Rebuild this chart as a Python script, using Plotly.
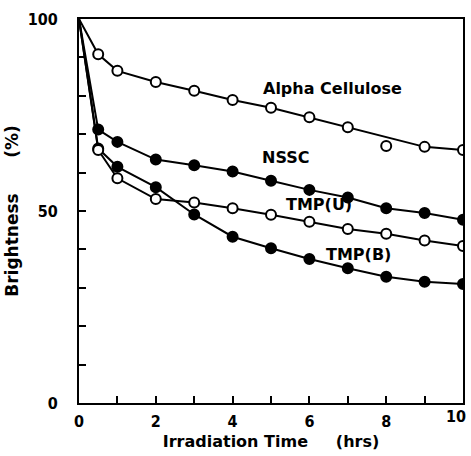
import plotly.graph_objects as go

# Irradiation time (hrs)
time_hrs = [0, 0.5, 1, 2, 3, 4, 5, 6, 7, 8, 9, 10]

# Brightness (%) for each pulp
alpha_cellulose = [100, 90.8, 86.5, 83.6, 81.3, 78.9, 76.9, 74.4, 71.8, 66.9, 66.7, 65.9]
nssc = [100, 71.2, 68.0, 63.4, 61.9, 60.3, 57.9, 55.5, 53.5, 50.7, 49.5, 47.7]
tmp_u = [100, 65.9, 58.5, 53.1, 52.2, 50.7, 49.0, 47.2, 45.3, 44.1, 42.3, 40.9]
tmp_b = [100, 66.3, 61.5, 56.2, 49.1, 43.3, 40.3, 37.5, 35.1, 32.9, 31.6, 31.0]

# Points that the hand-drawn curve passes through (Alpha Cellulose point at 8 h lies off the curve)
alpha_on_curve = [True, True, True, True, True, True, True, True, True, False, True, True]

series = [
    ("Alpha Cellulose", alpha_cellulose, "open", 6.6, 81.8),
    ("NSSC", nssc, "filled", 5.37, 63.9),
    ("TMP(U)", tmp_u, "open", 6.24, 51.6),
    ("TMP(B)", tmp_b, "filled", 7.28, 38.8),
]

y_tick_vals = list(range(0, 101, 10))
y_tick_text = ["0", "", "", "", "", "50", "", "", "", "", "100"]
x_tick_vals = list(range(0, 11))
x_tick_text = ["0", "", "2", "", "4", "", "6", "", "8", "", "10"]

FONT = "DejaVu Sans, Liberation Sans, Arial, sans-serif"
TICKFONT = "DejaVu Sans Condensed, DejaVu Sans, sans-serif"
SP = "\u00a0"

fig = go.Figure()

for name, vals, style, lx, ly in series:
    if name == "Alpha Cellulose":
        cx = [t for t, k in zip(time_hrs, alpha_on_curve) if k]
        cy = [v for v, k in zip(vals, alpha_on_curve) if k]
    else:
        cx, cy = time_hrs, vals
    fig.add_trace(go.Scatter(x=cx, y=cy, mode="lines",
                             line=dict(color="black", width=2),
                             showlegend=False, hoverinfo="skip"))

# filled markers first, open markers on top
for wanted in ("filled", "open"):
    for name, vals, style, lx, ly in series:
        if style != wanted:
            continue
        fig.add_trace(go.Scatter(
            x=time_hrs[1:], y=vals[1:], mode="markers", name=name,
            marker=dict(symbol="circle", size=10,
                        color="white" if style == "open" else "black",
                        line=dict(color="black", width=2)),
            showlegend=False))

for name, vals, style, lx, ly in series:
    fig.add_annotation(x=lx, y=ly, text=f"<b>{name}</b>", showarrow=False,
                       font=dict(family=FONT, size=16, color="black"))

# last x tick label sits flush with the right edge, as in the original figure
axis_tick_text = x_tick_text[:-1] + [""]
fig.add_annotation(x=x_tick_vals[-1], y=0, xref="x", yref="y",
                   text=f"<b>{x_tick_text[-1]}</b>", showarrow=False,
                   xanchor="right", yanchor="top", xshift=5, yshift=-2,
                   font=dict(family=TICKFONT, size=16, color="black"))

fig.update_layout(
    width=471, height=456,
    margin=dict(l=79, r=8, t=19, b=53),
    paper_bgcolor="white", plot_bgcolor="white",
    font=dict(family=FONT, size=14, color="black"),
    xaxis=dict(range=[0, 10], tickvals=x_tick_vals, ticktext=axis_tick_text,
               ticks="inside", ticklen=7, tickwidth=2, tickcolor="black",
               showline=True, linecolor="black", linewidth=2, mirror=True,
               showgrid=False, zeroline=False, ticklabelstandoff=3,
               ticklabeloverflow="allow", automargin=False,
               tickfont=dict(family=TICKFONT, size=16, weight="bold"),
               title=dict(text=f"<b>Irradiation Time{SP*5}(hrs)</b>",
                          font=dict(family=FONT, size=16), standoff=6)),
    yaxis=dict(range=[0, 100], tickvals=y_tick_vals, ticktext=y_tick_text,
               ticks="inside", ticklen=7, tickwidth=2, tickcolor="black",
               showline=True, linecolor="black", linewidth=2, mirror=True,
               showgrid=False, zeroline=False, ticklabelstandoff=16,
               ticklabeloverflow="allow", automargin=False,
               tickfont=dict(family=TICKFONT, size=16, weight="bold"),
               title=dict(text=f"<b>Brightness{SP*6}(%)</b>",
                          font=dict(family=FONT, size=17), standoff=5)),
)

fig.write_html("out.html")
